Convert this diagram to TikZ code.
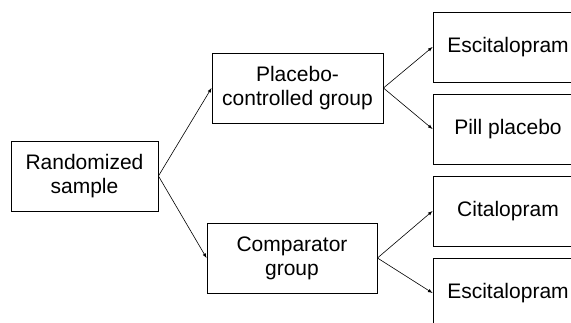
\documentclass[tikz,border=0pt]{standalone}
\usepackage{fontspec}
\setmainfont{Liberation Sans}
\usetikzlibrary{positioning}

\begin{document}
\begin{tikzpicture}[>=latex,on grid,node distance=82pt,
  box/.style={draw,line width=0.9pt,minimum height=70pt,align=center,inner sep=2pt,font=\fontsize{21}{24}\selectfont}]
\useasboundingbox (0,0) rectangle (571pt,-322pt);
\clip (0,0) rectangle (571pt,-322pt);
\node[box,minimum width=147pt] (rand) at (84.5pt,-176pt) {Randomized\\sample};
\node[box,minimum width=171pt] (placebo) [above right=88pt and 213pt of rand] {Placebo-\\controlled group};
\node[box,minimum width=170pt] (comp) [below right=82pt and 207.5pt of rand] {Comparator\\group};
\node[box,minimum width=150pt] (esc_a) [above right=41pt and 210.5pt of placebo] {Escitalopram};
\node[box,minimum width=150pt] (pill) [below=of esc_a] {Pill placebo};
\node[box,minimum width=150pt] (cit) [below=of pill] {Citalopram};
\node[box,minimum width=150pt] (esc_b) [below=of cit] {Escitalopram};
\path[->,line width=0.6pt]
(rand.east) edge (placebo.west) edge (comp.west)
(placebo.east) edge (esc_a.west) edge (pill.west)
(comp.east) edge (cit.west) edge (esc_b.west);
\end{tikzpicture}
\end{document}
